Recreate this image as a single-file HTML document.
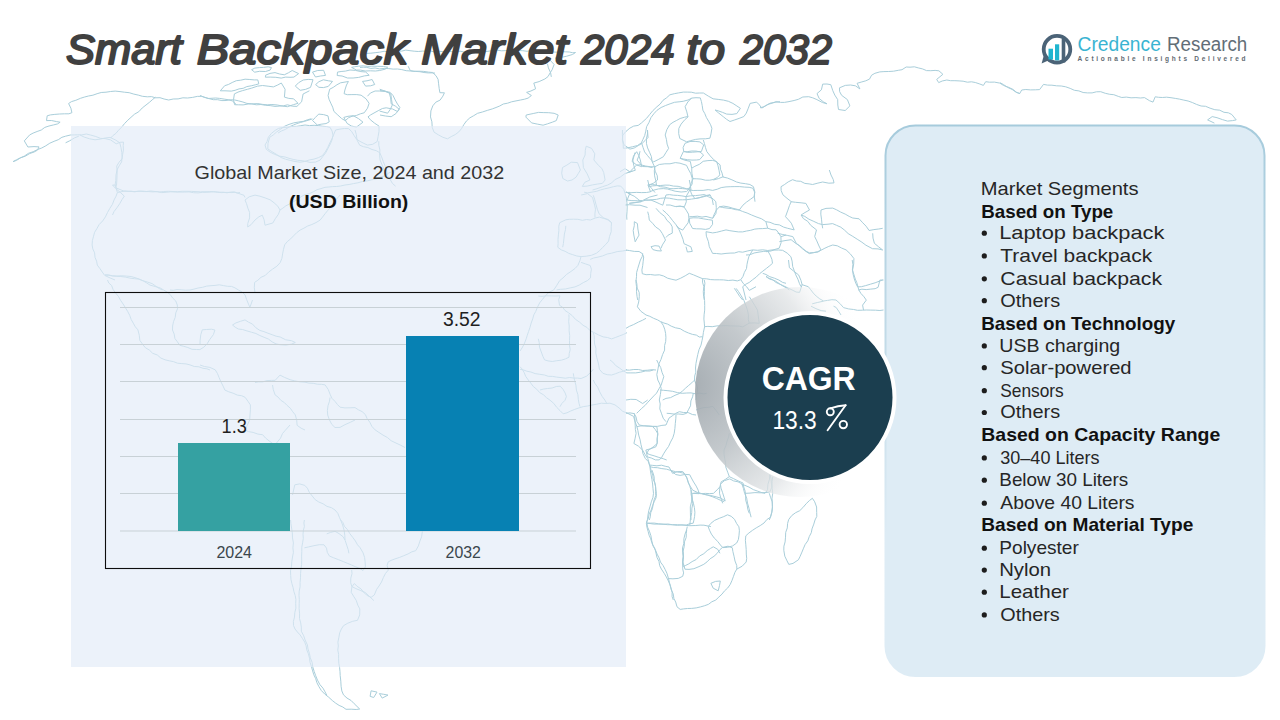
<!DOCTYPE html>
<html>
<head>
<meta charset="utf-8">
<style>
html,body{margin:0;padding:0;background:#fff;}
body{width:1280px;height:720px;overflow:hidden;}
svg{display:block;font-family:"Liberation Sans",sans-serif;}
</style>
</head>
<body>
<svg width="1280" height="720" viewBox="0 0 1280 720">
<defs>
<linearGradient id="pb" x1="0" y1="0" x2="0" y2="1">
<stop offset="0" stop-color="#a6cbdc"/><stop offset="0.45" stop-color="#c6dde9"/><stop offset="0.75" stop-color="#deecf5"/><stop offset="1" stop-color="#deecf5"/>
</linearGradient>
<radialGradient id="cr" gradientUnits="userSpaceOnUse" cx="682" cy="385" r="190">
<stop offset="0" stop-color="#9ba3a9" stop-opacity="0.92"/><stop offset="0.4" stop-color="#bcc2c6" stop-opacity="0.88"/><stop offset="0.72" stop-color="#e0e3e5" stop-opacity="0.75"/><stop offset="0.88" stop-color="#f4f5f6" stop-opacity="0.3"/><stop offset="1" stop-color="#ffffff" stop-opacity="0"/>
</radialGradient>
</defs>
<rect width="1280" height="720" fill="#ffffff"/>
<g id="map" fill="none" stroke="#a9ceda" stroke-width="1" stroke-linejoin="round"><polyline points="13.1,161.6 16.4,159.8 20.5,157.8 25.3,156.2 29.6,153.6 34.1,152.0 37.4,150.2 39.0,146.9 34.0,146.6 27.9,147.0 24.3,140.9 29.7,134.9 33.1,133.1 37.1,131.5 41.3,130.0 44.8,127.4 49.0,126.0 53.6,124.9 57.6,123.9 60.1,122.2 56.6,121.6 51.4,120.5 46.5,120.6 47.2,115.8 50.4,114.9 54.8,114.4 59.6,114.0 64.5,113.8 68.9,113.8 71.9,112.7 70.9,108.2 68.6,103.5 71.5,101.6 75.8,100.3 80.5,98.3 84.3,97.1 88.5,96.0 92.9,95.2 97.1,93.7 101.2,92.5 106.0,92.2 110.6,91.5 115.2,91.1 120.0,91.6 124.4,92.2 129.2,92.7 133.8,94.1 138.3,95.1 142.4,96.3 147.3,96.8 151.5,96.6 155.5,97.8 160.0,97.7 164.1,99.0 168.7,100.0 173.2,99.0 178.1,98.9 182.9,97.8 187.5,98.0 192.6,97.4 197.3,96.4 201.5,96.3 208.2,98.5 215.6,98.0 219.6,98.4 224.2,99.1 228.7,99.8 232.3,100.9 236.2,104.4"/>
<polyline points="13.1,161.6 16.5,160.4 20.1,158.0 24.3,156.1 28.5,153.3 33.2,151.7 37.6,149.5 41.7,148.0 45.8,145.8 49.8,143.2 54.1,141.3 58.3,139.7 61.9,137.3 65.6,136.2 70.4,135.0 74.3,134.9 77.8,134.8 81.8,134.9 86.3,134.0 90.8,135.1 95.8,136.5 100.6,138.4 105.1,138.6 110.6,139.9 116.2,143.8 120.1,142.3 123.5,142.1 123.2,145.5 123.4,150.1 122.6,154.7 122.0,158.8 119.1,162.2 116.7,166.1 117.2,170.7 117.0,175.9 116.8,181.0 116.5,185.2 112.5,185.0 115.9,188.7 120.2,192.3 124.3,196.1 122.0,199.6 119.7,203.7 116.9,207.8 114.0,211.6 112.5,215.0"/>
<polyline points="155.6,97.2 152.8,99.3 149.7,102.1 146.0,105.0 142.2,108.0 138.8,111.7 134.5,114.2 131.0,117.3 127.8,120.2 124.6,123.5 121.7,127.1 118.6,130.2 115.9,133.4 112.8,135.7 110.6,138.1"/>
<polyline points="116.2,185.0 116.0,187.9 123.9,191.1 126.8,191.3 130.0,191.4 133.4,191.6 137.0,191.4 140.8,191.4 144.7,191.6 148.8,191.6 153.0,191.9 157.3,191.6 161.7,192.6 166.2,192.3 170.7,191.8 175.3,192.0 179.9,192.1 184.5,192.1 189.0,191.9 193.6,192.7 198.1,192.9 202.5,192.3 206.9,192.3 211.2,191.9 215.3,191.9 219.4,192.2 223.3,192.2 227.0,192.8 230.6,192.1 233.9,191.9 237.1,193.0 240.0,192.5"/>
<polyline points="65.6,142.8 69.7,140.8 74.5,137.9 78.8,136.2"/>
<polyline points="311.2,118.8 307.7,119.7 303.5,121.3 298.7,122.0 293.7,122.9 289.0,124.4 284.9,126.1 280.7,129.1 276.7,131.9 273.3,134.9 269.7,137.3 268.0,143.2 267.8,148.9 271.8,151.6 276.4,154.3 281.1,157.5 285.5,159.2 290.2,160.4 295.0,161.5 300.0,162.2 304.5,161.5 309.2,160.0 314.0,159.1 318.5,157.6 322.2,155.8 325.3,151.9 327.7,147.6 329.8,143.0 332.0,138.6 333.9,134.1 335.6,130.0 339.9,129.1 344.5,128.5 348.5,128.6 351.5,131.3 354.0,135.4 356.5,139.2 360.0,141.4 363.9,143.4 367.5,145.1 372.7,144.3 377.2,141.5 378.1,136.6 379.0,131.3 379.0,126.1 374.6,123.2 370.3,119.7 368.0,116.9 370.3,115.1 374.0,113.0 378.2,110.7 382.4,108.5 386.2,107.8 392.6,109.0 397.6,111.6 399.9,107.5 397.5,104.1 395.2,100.0 393.1,95.6 390.1,92.3 385.0,91.5 379.8,91.0 375.1,91.0 370.4,93.0 367.5,96.2"/>
<polyline points="378.8,141.2 378.8,145.2 379.9,150.0 379.6,155.2 380.1,160.1 381.7,164.0 383.3,167.7 384.6,171.5 386.6,174.8 389.8,178.8 392.4,183.4 395.6,186.2"/>
<polyline points="200.0,95.5 204.2,97.2 209.4,98.7 213.3,99.7 217.6,99.7 221.9,100.6 226.0,100.5 230.2,99.8 234.4,99.9 238.7,100.9 242.9,102.0 246.9,103.4 251.7,103.9 256.3,104.8 260.9,104.5 265.6,105.3 270.2,105.6 275.0,106.4 279.1,106.1 283.5,105.8 287.5,104.8 292.4,106.2 296.9,106.4 301.6,101.8 303.1,94.0 309.4,90.8"/>
<polyline points="220.3,90.8 224.7,85.7 228.4,84.5 232.2,82.5 236.3,80.7 240.7,80.2 245.1,79.2 249.8,79.5 254.2,79.9 257.8,79.9 258.8,83.9 255.3,84.8 251.2,85.8 246.8,86.6 243.2,88.3 239.0,88.9 235.1,90.3 231.3,91.1 225.0,90.8 220.3,90.8"/>
<polyline points="234.4,93.9 238.0,92.1 242.6,90.6 247.4,89.3 251.7,88.1 257.3,86.2 262.5,85.5 268.1,86.2 273.4,86.9 277.7,85.0 281.3,83.0 285.1,89.3 284.4,97.1 288.8,98.4 293.6,98.8 298.0,103.3 293.6,104.6 287.5,106.7 282.6,106.1 277.4,105.0 271.9,104.5 267.3,104.8 262.6,104.4 257.9,103.6 253.1,103.8 248.2,104.0 243.1,104.9 238.3,104.8 234.6,104.7 233.5,99.7 234.4,93.9"/>
<polyline points="251.6,69.7 254.8,68.1 259.4,67.6 263.6,67.4 268.2,66.8 271.5,67.6 270.1,70.1 265.5,71.5 259.6,71.3 254.7,72.2 251.6,69.7"/>
<polyline points="265.6,75.2 270.0,73.4 275.0,72.6 279.6,74.0 284.3,74.8 288.4,72.8 292.2,70.5 298.6,73.6 293.9,77.1 290.0,77.3 285.7,77.1 281.2,78.1 275.8,77.3 270.2,77.1 265.4,77.2 265.6,75.2"/>
<polyline points="295.3,86.1 298.6,82.7 303.2,80.0 308.2,79.4 313.0,79.7 310.5,87.4 305.5,89.4 300.2,90.3 295.3,86.1"/>
<polyline points="312.5,72.1 317.7,70.5 323.6,70.3 325.5,75.4 320.4,76.0 315.5,77.0 312.5,72.1"/>
<polyline points="315.6,84.6 318.9,81.7 323.4,79.8 328.5,80.8 332.5,81.4 328.3,86.4 323.4,87.6 318.9,87.3 315.6,84.6"/>
<polyline points="337.5,72.1 341.1,71.5 345.4,71.1 350.0,70.0 355.4,70.4 360.9,71.6 365.7,72.0 369.2,75.3 364.3,75.9 358.7,77.4 353.1,78.0 347.5,78.0 342.1,76.0 337.2,75.5 337.5,72.1"/>
<polyline points="329.7,89.2 333.2,87.4 336.9,84.8 340.6,82.8 348.4,81.5 346.5,85.0 344.9,90.0 344.1,93.7 347.3,94.7 351.9,94.6 356.8,94.6 361.1,95.2 366.0,98.8 369.1,103.3 367.5,108.2 364.2,112.8 360.4,113.8 356.3,115.5 352.0,116.3 348.6,117.7 345.3,120.7 341.6,118.5 337.8,115.0 333.9,111.4 332.7,107.2 330.8,103.2 329.0,99.2 328.1,95.5 329.7,89.2"/>
<polyline points="362.5,81.4 367.0,80.8 372.1,79.5 374.7,84.5 370.6,85.8 365.6,86.1 362.5,81.4"/>
<polyline points="312.5,120.5 315.4,117.4 318.7,114.1 323.6,114.6 328.0,115.9 329.2,121.9 326.0,123.6 321.2,124.2 317.3,125.0 312.5,120.5"/>
<polyline points="343.8,117.4 348.0,116.3 353.2,115.7 358.5,118.6 363.0,122.2 356.4,127.1 351.3,126.0 347.1,123.4 343.8,117.4"/>
<polyline points="351.6,67.4 354.7,66.7 358.7,66.2 363.2,65.8 367.8,66.4 371.9,66.2 377.8,66.3 383.5,66.5 387.7,67.2 385.1,69.2 379.7,70.5 375.4,71.0 370.4,70.8 365.3,71.0 360.4,70.1 356.4,70.0 351.6,67.4"/>
<polyline points="379.7,89.2 385.1,91.2 390.8,93.8 391.5,99.4 392.4,104.9 390.3,109.3 387.6,113.2 379.7,111.1"/>
<polyline points="296.9,123.6 300.3,122.5 304.7,121.3 309.0,120.0 312.5,118.9"/>
<polyline points="278.1,133.0 281.2,131.1 285.4,129.4 289.4,126.8 293.5,125.0 296.9,123.6"/>
<polyline points="408.1,66.2 410.3,70.6 413.9,71.3 418.6,71.2 423.7,71.4 428.5,72.1 432.6,72.5 436.0,75.7 438.1,79.4 438.6,83.8 439.2,88.6 439.9,92.7 444.4,92.8 442.9,96.1 440.1,100.1 435.8,102.2 432.8,105.8 430.9,110.9 430.5,116.9 431.9,121.8 432.2,127.3 434.0,132.1 438.3,134.8 442.9,137.3 447.5,138.8 451.2,136.6 455.2,134.6 458.8,131.9 461.6,128.5 463.9,124.5 466.5,120.9 469.8,117.9 473.7,115.7 477.6,113.3 482.4,112.0 487.3,110.4 492.3,108.9 496.0,107.5 499.7,106.0 503.3,104.0 507.6,103.2 511.6,101.8 516.0,100.9 520.5,100.0 524.6,99.2 528.1,98.1 531.4,95.5 526.6,92.4 530.9,91.0 535.6,88.8 533.8,83.1 539.1,81.6 544.8,79.0 548.0,76.6 550.1,72.9 552.1,69.8 554.1,64.5 548.8,58.8"/>
<polyline points="526.2,115.0 533.8,113.4 538.5,112.4 543.8,112.6 548.7,112.7 554.1,113.3 558.2,115.0 556.3,120.6 552.3,122.2 547.6,123.8 543.1,125.2 537.3,124.1 531.6,122.9 525.9,117.1 526.2,115.0"/>
<polyline points="380.0,90.6 384.7,90.9 389.2,92.7 390.6,97.9 391.2,103.8 395.7,106.3 399.2,109.3 395.9,113.6 391.2,116.7 385.4,116.0 380.0,115.0"/>
<polyline points="360.0,54.4 363.2,54.2 366.8,53.4 370.8,53.2 375.1,52.7 379.6,52.2 384.1,51.3 388.8,51.7 393.2,50.6 397.5,51.2 401.7,51.1 405.8,50.1 410.0,50.7 414.2,51.2 418.3,51.5 422.5,51.1 426.7,51.1 430.8,51.1 435.0,52.1 439.2,51.3 443.3,51.7 447.5,51.2 451.7,51.7 455.8,52.1 460.0,51.2 464.2,52.0 468.3,51.6 472.5,52.0 476.7,51.7 480.8,51.1 485.0,51.7 489.2,51.1 493.3,50.5 497.5,50.3 501.7,50.8 505.8,50.6 510.0,50.4 514.2,50.3 518.5,50.6 522.7,50.7 527.0,51.3 531.2,50.5 535.4,51.5 539.5,51.7 543.6,51.0 547.5,52.0 552.0,51.9 556.6,52.2 561.1,51.6 565.5,51.8 569.4,52.0 572.8,52.8 575.5,52.5 572.5,54.5 566.3,56.3 560.3,57.6 555.0,58.1"/>
<polyline points="360.0,67.5 363.2,67.2 366.8,67.4 370.8,68.4 375.1,68.0 379.6,68.9 384.2,68.4 388.8,68.6 393.2,69.1 397.5,69.0 401.8,69.6 406.2,70.7 410.8,71.0 415.4,71.4 419.9,71.7 424.1,72.5 428.1,72.9 431.8,72.9 435.0,73.1"/>
<polyline points="547.5,63.8 548.4,67.9 550.6,72.7 551.3,76.9"/>
<polyline points="623.3,148.3 623.2,144.3 622.4,139.4 622.8,135.1 625.9,131.5 629.9,128.1 633.7,126.1 638.2,125.4 641.4,123.0 646.6,118.3 649.6,114.6 652.9,110.6 656.9,106.8 660.2,104.0 663.0,100.3 666.7,97.7 669.9,94.8 674.3,93.7 678.6,92.9 683.3,92.1 687.2,92.1 691.3,92.2 695.6,93.2 699.7,93.0 703.4,93.0 708.3,96.1 713.1,98.8 718.2,99.4 723.5,100.1 728.4,101.3 732.9,103.4 736.9,106.0 740.4,108.3 736.8,113.6 732.0,114.4 726.7,114.1 722.6,112.4 718.1,110.8 715.1,110.0 718.5,112.9 723.3,116.7 726.7,119.4 730.0,121.5 734.8,119.9 739.9,118.1 743.9,116.5 746.3,113.1 748.3,108.2 750.1,103.4 756.6,102.1 759.4,104.9 761.7,108.1 765.5,105.9 770.0,103.2 775.3,102.3 780.0,101.7"/>
<polyline points="623.3,148.3 627.4,147.9 632.4,146.8 637.5,145.5 641.3,142.9 642.9,139.5 644.7,135.5 645.8,131.1 646.6,126.7 649.0,122.4 650.9,117.7 653.9,113.7 657.0,110.3 661.1,107.5 665.6,105.5 670.1,103.8 674.5,102.3 679.1,101.8 683.2,101.3 688.0,100.0 691.7,98.3"/>
<polyline points="641.7,143.3 643.0,147.3 644.6,151.9 647.3,155.3 649.9,158.4 653.3,162.0 658.2,159.6 663.4,156.7 665.9,152.6 668.6,148.4 667.1,144.1 666.4,139.3 665.2,135.0 666.8,129.7 669.7,124.7 673.0,122.3 676.7,120.4 680.1,118.5 684.6,117.2 687.9,116.5 686.8,111.9 685.1,106.7 687.8,102.0 691.5,98.1 696.0,97.7 700.3,97.9 701.4,101.5 702.2,105.5 702.9,110.2 704.8,113.6 706.4,117.5 708.6,121.2 710.6,124.8 711.9,128.3 711.0,133.9 709.9,138.2 705.4,138.8 700.0,138.9 695.6,139.4 690.8,140.6 686.6,141.8 679.8,138.5 678.7,133.6 678.8,128.5 681.1,124.1 684.8,119.7 688.3,116.7"/>
<polyline points="685.0,143.3 690.0,141.5 695.1,141.4 699.9,141.9 703.7,144.9 701.4,151.5 697.5,151.8 692.4,152.2 687.3,152.4 683.7,151.3 683.1,147.5 685.0,143.3"/>
<polyline points="683.3,151.7 687.1,151.7 691.7,151.0 696.2,151.1 699.9,151.9 703.6,155.0 699.7,159.6 696.4,160.0 692.0,160.1 687.4,159.7 683.3,159.0 680.2,158.3 683.3,151.7"/>
<polyline points="680.0,158.3 684.8,160.2 690.3,161.4 691.7,168.2 694.9,166.3 699.4,164.3 703.2,161.3 707.9,160.6 712.7,160.4 716.7,161.6 718.0,165.8 719.1,170.7 719.8,174.9 717.2,177.6 713.2,179.5 709.7,180.2 705.4,180.2 701.0,179.1 696.8,178.8 692.9,178.7 691.9,173.2 691.7,168.3"/>
<polyline points="703.3,140.0 704.4,143.4 705.5,147.6 706.8,151.6 710.2,155.9 713.7,159.6 717.0,162.3 720.1,164.9 720.5,169.3 722.1,173.2 723.0,177.0 727.3,178.0 731.9,179.8 736.6,182.0 740.8,183.1 745.5,183.7 749.9,184.5 753.4,186.6 754.7,191.5 754.4,197.1 755.0,201.7"/>
<polyline points="655.0,166.7 659.3,164.5 664.8,163.8 670.0,163.8 675.3,162.6 680.0,163.2 686.5,165.3 688.3,169.1 690.8,173.6 692.2,178.3 692.2,183.9 689.7,188.0 686.7,189.0 682.6,188.6 678.3,188.3 673.9,188.7 670.0,188.6 665.1,187.2 660.5,186.7 656.5,185.2 655.8,180.8 654.6,175.9 654.3,170.8 655.0,166.7"/>
<polyline points="636.7,165.0 640.8,164.8 645.8,166.1 650.9,166.8 655.0,166.7"/>
<polyline points="656.7,185.0 652.4,184.6 647.9,184.8 650.5,191.8 646.4,192.5 641.7,192.6 636.7,192.4 632.0,192.6 628.3,193.3"/>
<polyline points="636.7,151.7 638.6,155.2 640.3,159.9 641.7,166.7 636.7,165.0 632.1,161.5 633.5,156.1 636.7,151.7"/>
<polyline points="693.3,178.3 691.2,182.9 689.7,188.3 691.5,194.0 694.9,198.6 699.8,197.6 705.3,195.6 710.1,194.8 712.4,199.8 713.3,205.0"/>
<polyline points="713.3,180.0 718.4,178.6 723.3,176.7"/>
<polyline points="650.0,191.7 653.8,190.1 658.6,188.9 663.3,188.6 667.4,189.0 671.3,190.1 675.1,191.2 681.1,192.0 686.6,191.5 690.0,188.3"/>
<polyline points="645.0,200.0 648.3,200.2 652.1,199.7 656.4,199.4 660.7,198.3 665.0,197.9 669.3,198.2 673.5,199.0 677.9,199.8 682.3,199.8 686.6,199.7 691.5,199.1 696.6,198.3 701.7,197.2 706.3,196.1 710.0,195.0"/>
<polyline points="620.0,171.7 625.0,168.7 630.0,171.8 633.2,168.2 636.7,165.0"/>
<polyline points="760.0,107.8 763.6,106.8 767.7,104.5 772.3,103.1 776.2,101.6 780.4,102.4 784.4,102.4 789.0,101.6 794.1,100.5 798.4,99.3 802.8,97.0 808.7,96.7 812.7,97.8 816.9,99.6 822.4,102.5 827.0,103.8 823.3,101.8 819.2,98.5 817.0,93.6 821.4,89.8 822.7,84.1 827.0,84.0 830.8,84.7 832.8,90.7 834.8,95.1 837.7,99.6 837.8,105.0 838.5,109.5 845.2,110.5 849.9,105.9 847.4,99.6 841.6,95.3 839.6,91.5 839.5,87.8 845.3,85.4 850.5,85.0 855.4,85.8 859.9,88.9 857.1,83.3 861.2,82.1 865.8,80.8 869.5,79.1 871.6,75.2 874.9,73.3 879.8,71.9 883.9,71.6 888.7,71.5 893.6,71.2 898.3,70.3 902.0,69.7 906.2,67.0 910.0,67.2 914.4,66.8 918.3,67.9 922.5,68.9 926.5,70.6 930.8,70.7 935.1,70.4 938.9,70.8 942.9,74.3 936.7,79.4 938.7,82.6 942.2,81.0 946.8,80.0 950.6,80.7 954.9,80.7 959.1,80.9 963.1,81.2 967.4,82.2 971.5,81.8 975.3,82.5 979.8,84.0 983.4,85.4 985.7,81.7 989.5,82.2 994.4,82.1 999.8,83.1 1003.6,85.5 1008.3,87.2 1012.8,89.3 1016.5,92.3 1020.0,93.6"/>
<polyline points="1000.0,82.7 1003.4,84.5 1007.4,87.3 1012.1,89.4 1016.0,92.2 1019.7,93.6 1021.7,90.0 1025.8,89.5 1030.5,89.9 1035.3,89.8 1039.6,89.6 1043.5,84.4 1047.5,85.1 1051.9,85.2 1056.6,85.8 1061.3,86.0 1065.7,86.8 1070.2,88.4 1074.4,90.3 1078.9,90.9 1083.1,92.5 1087.6,92.9 1092.1,92.9 1096.4,91.8 1100.7,91.7 1105.3,93.3 1109.7,94.3 1113.8,94.7 1118.3,96.4 1121.8,97.5 1126.3,97.1 1131.1,97.8 1135.9,97.6 1140.4,98.0 1144.5,97.6 1149.5,100.7 1153.0,102.1 1155.2,96.8 1158.6,97.3 1162.4,97.5 1166.6,97.2 1171.0,97.7 1175.3,98.4 1179.4,99.1 1183.8,100.1 1188.1,101.0 1192.3,102.5 1196.5,104.4 1201.1,106.0 1205.6,106.3 1210.1,108.2 1214.8,109.7 1219.7,110.2 1224.0,112.3 1228.4,112.8 1231.8,114.5 1236.2,119.9 1232.6,120.6 1227.5,121.1 1222.4,119.6 1217.0,117.7 1212.2,116.6 1207.6,119.9 1214.4,123.1"/>
<polyline points="629.3,203.3 634.8,202.5 641.0,201.6 645.9,200.1 651.0,200.1 655.0,201.7 659.2,203.6 662.8,205.2 664.3,200.2 666.0,195.0 669.4,194.6 673.3,195.2 677.6,195.4 681.9,195.9 686.0,196.6 690.7,195.8 695.5,195.6 700.1,195.1 704.4,194.5 708.7,196.9 713.0,198.7 715.8,201.8 716.3,207.6 716.0,213.3 712.7,218.3"/>
<polyline points="647.7,211.7 648.7,215.5 649.3,220.0 652.6,223.3 655.7,227.0 659.7,229.7 662.3,233.5 665.5,240.0 662.4,244.9 661.0,248.3"/>
<polyline points="656.0,208.3 659.6,212.4 664.6,216.4 666.9,220.3 670.3,223.4 672.2,226.8 672.3,233.1 667.9,235.3 666.0,237.5"/>
<polyline points="634.3,221.7 637.4,223.5 637.9,229.0 639.0,235.1 635.2,241.8 633.8,235.0 633.2,230.5 634.3,225.6 634.3,221.7"/>
<polyline points="651.0,246.7 655.0,245.7 659.1,246.1 661.4,251.0 657.0,250.7 652.9,249.6 651.0,246.7"/>
<polyline points="662.7,210.0 666.0,212.8 669.5,216.5 672.7,220.7 676.2,224.9 679.1,229.8 681.3,234.9 683.0,239.3 684.0,243.7 690.9,246.8 692.3,251.4 687.4,252.0 686.0,246.7"/>
<polyline points="706.0,231.7 706.4,236.2 708.4,241.6 709.3,246.7 712.6,253.4 716.6,253.5 721.2,254.0 726.0,253.4 730.1,253.1 734.5,253.0 738.7,251.7 742.7,252.2 747.8,250.9 752.7,249.9 757.5,250.3 762.7,249.8 767.7,250.5 774.0,249.7 779.2,248.2 781.1,242.7 780.9,236.7 778.8,233.2 776.1,229.8 772.0,229.6 767.6,228.2 762.7,228.6 758.9,228.7 754.8,229.1 750.7,230.3 746.6,231.0 742.7,231.9 738.3,231.9 734.0,231.3 729.9,230.7 726.0,229.9 721.3,231.1 716.7,232.3 712.7,232.9 706.0,231.7"/>
<polyline points="712.7,218.3 714.1,214.5 716.4,210.1 719.4,206.8 723.6,206.1 728.3,206.9 732.7,208.2 737.8,209.5 742.7,211.5 747.1,213.0 751.6,215.0 756.0,216.8 761.6,218.8 765.9,221.7 767.7,228.3"/>
<polyline points="689.3,216.7 692.9,216.6 697.4,216.2 702.0,217.1 706.0,216.4 712.7,218.3"/>
<polyline points="689.3,218.3 693.2,217.8 698.3,217.9 703.7,218.9 708.7,219.7 712.4,220.2 712.6,224.3 709.5,228.5 705.6,229.4 701.0,228.9 696.5,228.8 692.6,228.5 689.7,223.2 689.3,218.3"/>
<polyline points="676.0,206.7 680.0,206.2 684.1,207.1 686.2,210.2 688.5,214.1 688.9,218.3 688.1,222.8 685.1,226.8 682.7,230.1 678.9,228.2 676.0,225.0"/>
<polyline points="666.0,205.0 670.1,205.0 675.1,206.5 680.2,206.2 684.4,206.7 686.3,201.8 686.0,196.7"/>
<polyline points="649.3,186.7 652.5,185.9 656.4,185.6 660.8,185.5 665.1,185.1 669.3,185.2 673.5,186.1 678.1,186.3 682.4,187.5 686.3,188.7 689.8,190.0 686.0,196.7"/>
<polyline points="689.3,190.0 693.2,190.5 697.9,190.4 703.1,190.4 708.2,189.6 712.7,190.4 717.3,189.2 721.2,187.6 726.0,186.9 730.2,186.7 734.9,186.6 739.8,186.6 744.6,187.1 749.1,187.3 752.8,188.2 754.7,192.3 754.1,196.6 750.6,199.2 746.4,202.2 742.9,205.2 739.3,210.0 735.8,209.7 731.5,208.6 727.0,208.1 722.7,207.5 719.3,206.7"/>
<polyline points="626.0,250.0 629.7,250.6 634.3,251.4 639.1,251.5 642.3,253.6 643.7,256.9 643.2,261.2 642.7,265.7 641.9,269.9 642.3,273.7 646.1,274.7 650.4,274.5 654.9,275.1 659.4,274.8 663.6,276.0 667.6,278.2 671.9,279.3 676.0,280.2 680.7,278.2 685.2,275.8 689.3,273.3 693.6,274.9 698.0,276.8 702.6,278.7 706.6,278.8 710.7,279.6 714.9,279.8 719.3,279.8 723.6,279.9 728.3,280.5 732.9,280.1 737.3,280.9 740.8,279.7 743.0,276.4 744.4,272.4 746.5,268.5 747.0,264.3 747.9,260.2 748.9,256.5 752.7,250.0"/>
<polyline points="642.7,253.3 642.2,256.6 640.4,260.0 639.1,264.1 637.8,268.3 636.6,272.6 636.5,276.7 635.9,281.6 636.5,286.7 636.5,291.7 637.0,296.3 637.7,300.0"/>
<polyline points="702.7,278.3 702.5,282.1 703.8,286.7 703.3,291.7 703.6,296.3 704.3,300.0"/>
<polyline points="746.0,255.0 749.8,254.8 754.1,253.0 759.0,252.1 763.7,251.4 767.9,251.2 770.2,255.1 771.9,259.3 772.5,263.3 769.8,265.7 766.4,268.4 762.8,271.2 759.6,273.7 756.2,277.1 752.5,279.8 749.3,282.4 745.6,284.3 742.7,286.7 743.8,291.0 745.0,295.9 746.0,300.0"/>
<polyline points="762.7,273.3 766.0,274.5 769.8,276.7 774.4,278.2 778.8,280.0 782.6,282.4 786.0,283.3"/>
<polyline points="734.3,288.3 736.9,292.0 739.8,296.6 742.7,300.0"/>
<polyline points="626.0,191.7 629.4,194.0 634.2,196.2 638.2,199.3 641.1,201.7 635.7,202.6 629.3,203.3"/>
<polyline points="649.3,186.7 647.7,180.0"/>
<polyline points="689.3,180.0 690.3,185.0 691.0,190.0"/>
<polyline points="781.0,236.7 786.0,235.0"/>
<polyline points="781.0,186.7 784.3,184.7 788.2,181.9 792.6,179.7 796.4,181.0 800.7,181.3 804.8,183.4 809.1,183.9 812.6,184.5 817.9,183.1 822.7,182.0 828.9,183.2 834.0,182.9 833.2,179.4 831.0,175.0 829.3,170.0"/>
<polyline points="781.0,186.7 781.2,190.6 782.9,194.8 787.0,198.3 791.2,201.6 789.4,205.7 787.9,210.1 785.5,216.7 788.5,219.9 791.3,223.2 794.2,229.9 787.7,228.3 783.6,227.1 779.4,224.9 774.7,224.3 770.0,222.3 766.0,221.7"/>
<polyline points="791.0,201.7 795.6,202.3 801.1,202.8 805.9,203.4 809.5,210.0 805.0,212.5 801.1,215.0 803.3,218.5 807.8,221.4 810.7,225.3 816.5,229.9 814.7,236.6 816.8,240.9 819.0,246.0 821.0,250.0 818.0,252.0 813.6,252.6 809.3,253.6 805.9,251.4 802.4,248.7 799.1,245.7 796.2,243.2 792.8,236.6 787.8,235.5 782.2,234.4 777.7,233.3"/>
<polyline points="801.0,215.0 804.8,216.4 808.9,219.2 813.8,221.4 818.5,223.6 822.7,224.6 828.0,224.2 832.6,223.6 836.5,225.3 840.8,227.2 844.4,230.0 848.2,233.6 852.8,236.4 857.2,239.2 861.9,242.2 865.9,245.2 872.5,248.7 878.0,248.9 882.7,250.0"/>
<polyline points="821.0,210.0 826.0,208.4 832.7,208.1 836.6,209.8 840.7,212.1 845.2,214.1 849.2,216.4 852.7,218.0 859.1,218.8 862.2,222.2 866.1,226.2 869.1,230.5 873.9,229.6 878.7,229.0 882.7,228.3"/>
<polyline points="821.0,210.0 820.8,214.1 821.5,219.2 822.0,224.3 822.7,228.3"/>
<polyline points="779.3,241.7 785.0,240.6 791.1,239.7 795.9,243.5 799.3,245.4 802.6,248.3 806.0,251.2 809.4,252.8 813.3,252.7 817.3,251.8 821.1,250.2 824.9,248.2 828.8,246.4 832.7,245.0 837.3,245.8 841.7,248.1 846.1,249.9 850.5,254.1 853.9,258.5 853.7,263.9 852.6,270.0 853.1,274.3 854.3,279.0 855.8,283.3 857.6,286.9 861.4,286.7 865.7,285.6 870.4,284.2 875.1,282.8 879.3,281.2 882.7,280.0"/>
<polyline points="872.7,233.3 873.0,238.1 874.4,243.3 878.7,246.9 882.7,250.0"/>
<polyline points="766.0,251.7 769.6,251.3 774.0,250.1 778.6,250.0 782.6,250.3 787.2,253.1 790.9,256.7 792.1,261.1 792.7,266.6 794.2,270.5 795.8,274.9 797.9,279.2 799.4,283.4 801.0,286.7"/>
<polyline points="766.0,276.7 769.7,279.0 774.9,280.7 779.2,283.5 782.9,286.0 786.6,288.0 789.3,290.0"/>
<polyline points="636.0,280.0 636.8,283.6 637.2,288.1 639.2,292.5 639.3,296.7 638.7,302.0 637.4,306.8 640.9,311.3 646.0,315.0 649.8,316.3 653.6,318.3 657.6,319.9 660.8,321.8 663.2,325.2 664.7,329.2 665.6,333.4 665.9,337.3 665.7,341.4 664.6,345.6 664.6,350.1 662.6,354.5 661.0,359.4 658.9,363.9 658.1,368.4 656.8,374.5 657.8,380.0 659.8,384.0 661.2,388.3 660.4,394.5 659.3,400.0"/>
<polyline points="704.3,280.0 704.9,283.3 704.4,287.1 704.4,291.3 704.2,295.8 704.6,300.6 704.7,305.4 704.7,310.1 704.1,314.8 703.9,319.1 704.3,323.1 704.6,326.7 703.4,332.4 702.8,336.7 702.0,340.7 701.0,345.1 699.0,349.7 697.8,354.4 696.8,359.1 696.0,363.3 695.5,368.0 695.8,372.2 694.7,376.0 694.5,380.1 691.8,382.8 688.7,385.4 685.6,388.1 682.5,391.0 679.4,393.5 675.0,395.3 670.6,397.6 666.0,398.4 662.7,400.0"/>
<polyline points="704.3,326.7 707.9,326.4 712.2,326.7 716.9,325.9 721.6,325.8 726.0,325.6 730.5,325.9 734.9,326.0 739.0,326.1 742.7,326.9 749.3,323.1 754.6,322.9 759.3,323.3"/>
<polyline points="626.0,328.3 629.3,326.4 633.7,324.5 638.3,322.1 642.6,320.2 646.0,318.3"/>
<polyline points="661.0,321.7 663.9,323.0 667.6,324.1 671.3,326.2 675.5,327.8 680.2,328.7 684.3,331.2 688.5,333.0 692.5,334.4 696.4,335.1 699.3,337.0 702.7,336.7"/>
<polyline points="626.0,370.0 629.5,370.1 633.8,369.5 638.4,369.5 642.7,370.5 647.6,370.2 652.2,369.7 656.0,370.0"/>
<polyline points="736.0,288.3 738.5,291.5 741.2,295.8 743.9,300.4 745.7,305.1 747.3,309.7 748.4,314.7 748.3,319.6 749.3,323.3"/>
<polyline points="741.0,280.0 743.2,283.4 746.7,286.8 749.3,290.4 756.0,286.7"/>
<polyline points="749.3,296.7 751.8,300.6 754.7,305.4 757.5,310.1 758.1,314.8 758.7,319.5 759.3,323.3"/>
<polyline points="694.3,380.0 697.3,386.8 697.6,391.1 696.4,396.0 696.0,400.0"/>
<polyline points="626.0,413.3 630.0,412.9 634.2,413.6 636.0,416.9 637.0,421.5 639.3,425.0 643.5,425.8 648.1,426.2 652.7,426.3 657.3,426.4 661.9,425.4 666.0,425.0 669.0,418.1 672.2,415.9 675.6,413.4 679.3,411.7 683.4,412.5 688.2,412.6 692.4,414.5 696.0,415.0"/>
<polyline points="634.3,413.3 634.7,416.7 635.0,420.8 635.2,425.2 635.4,429.6 636.1,433.3 635.0,438.8 633.9,443.5 638.5,446.2 642.6,450.1 644.9,454.3 647.8,458.6 649.2,463.4 650.4,467.2 651.2,471.0 652.8,475.0 653.1,478.9 654.7,482.7 655.6,486.9 655.6,491.7 655.8,495.6 654.2,499.7 653.2,504.2 652.4,508.7 650.7,512.8 650.3,516.8 649.3,520.0"/>
<polyline points="652.7,426.7 655.3,429.5 657.6,433.3 657.3,437.7 657.4,442.6 656.0,446.7 650.9,448.7 645.9,450.0 647.4,456.9 651.3,458.0 655.4,459.9 659.3,459.9 661.7,457.4 663.6,453.8 666.0,450.0 668.6,446.4 670.5,442.1 672.8,437.8 674.2,433.3 674.9,428.5 675.3,423.5 675.8,418.8 676.0,415.0"/>
<polyline points="649.3,465.0 652.7,465.4 656.9,465.8 661.5,465.2 665.8,466.4 669.0,467.0 672.6,473.4 677.3,471.6 682.7,471.5 685.1,474.4 687.0,478.4 688.3,482.9 690.6,486.8 692.6,490.1 697.6,492.5 702.5,493.8 707.6,495.1 712.6,496.8 716.7,498.5 720.8,500.4 724.3,501.7"/>
<polyline points="691.0,490.0 691.8,494.3 692.5,500.0 692.8,503.8 691.9,508.1 691.7,512.6 691.0,516.6 691.0,520.0"/>
<polyline points="729.3,433.3 728.6,436.9 727.1,441.1 725.9,445.7 724.0,450.0 724.0,454.3 724.7,458.6 725.6,462.8 725.7,466.8 727.7,472.2 729.3,476.6 725.5,479.3 721.2,481.8 719.8,487.3 719.5,493.3 721.0,498.7 722.7,503.3"/>
<polyline points="729.3,476.7 733.3,478.5 738.1,480.9 743.0,483.0 743.8,487.1 745.2,491.3 745.7,495.8 745.7,500.1 747.1,504.9 747.9,509.7 749.3,513.3"/>
<polyline points="746.0,493.3 750.0,493.1 754.9,492.6 760.2,492.8 765.2,492.6 769.7,492.0 771.9,487.1 772.1,481.3 772.7,476.7"/>
<polyline points="769.3,493.3 770.5,497.2 772.2,501.8 772.5,506.7 772.1,511.5 770.8,516.3 769.3,520.0"/>
<polyline points="626.0,400.0 630.8,399.3 636.2,399.5 642.7,403.5 647.7,400.0"/>
<polyline points="659.3,400.0 660.2,403.9 659.8,408.9 661.4,413.2 663.2,418.2 666.0,421.7"/>
<polyline points="696.0,410.0 699.5,408.7 704.0,407.5 708.7,407.3 712.8,406.4 716.4,410.9 719.3,415.0"/>
<polyline points="651.9,470.0 653.0,473.0 654.1,476.6 654.3,480.8 655.4,485.0 655.9,489.4 656.4,493.6 656.1,497.7 654.2,501.6 652.5,505.8 651.1,510.1 649.1,514.0 648.4,518.2 646.7,521.9 647.5,527.0 649.4,531.2 650.9,535.7 651.8,540.9 652.8,544.8 654.9,548.6 656.0,553.0 657.0,557.5 659.0,561.5 659.7,565.7 661.4,569.1 664.2,573.3 666.3,576.9 668.4,581.0 670.0,584.9 671.2,589.5 673.2,593.9 673.9,598.5 675.7,602.1 677.0,606.8 680.2,609.4 683.6,608.9 687.5,608.5 691.7,608.4 696.2,607.9 700.5,606.9 704.7,605.7 708.5,604.3 711.8,601.8 715.8,600.0 718.9,597.0 722.0,594.1 724.6,590.8 727.6,588.1 730.2,584.5 732.0,580.4 733.5,576.3 734.9,572.4 736.8,569.1 742.2,566.2 746.2,562.0 746.7,558.3 746.3,554.1 746.2,549.5 745.8,544.8 745.4,540.3 745.8,535.8 748.9,533.0 752.4,530.4 756.2,527.9 760.2,525.6 764.0,523.0 766.8,519.6 770.3,517.4 771.6,512.7 772.3,507.9 772.3,503.0 772.0,498.2 772.7,493.6 772.2,488.4 771.4,483.2 771.0,478.5 769.9,474.7"/>
<polyline points="647.2,523.1 650.5,523.1 654.4,523.1 658.6,523.8 663.2,524.3 667.9,524.0 672.7,524.8 677.4,525.3 681.9,524.8 686.0,525.4 689.7,525.7 695.8,525.5 700.1,525.1 703.9,525.2 710.9,526.6"/>
<polyline points="689.7,525.5 690.2,521.8 690.5,517.2 690.4,512.1 690.3,506.9 691.5,501.9 691.9,497.4 691.9,493.3 699.2,493.7 698.2,490.2 696.2,486.1 693.6,482.0 691.4,478.0 689.7,474.7"/>
<polyline points="701.5,493.6 705.6,494.7 710.8,495.5 716.1,496.8 720.5,498.0 725.2,500.9 724.0,497.2 722.6,492.7 721.0,488.1 720.4,484.2 724.3,480.7 729.8,478.9 733.6,480.9 738.0,481.8 741.9,483.9 743.4,488.4 744.6,493.3 746.7,498.2 747.5,503.1 749.0,508.3 750.1,513.2 751.1,517.2"/>
<polyline points="727.5,514.8 731.2,516.3 734.5,519.3 736.6,523.5 738.9,526.8 739.4,530.7 739.0,535.2 738.4,539.5 736.7,543.0 732.7,545.9 727.6,547.3 722.8,547.6 720.4,545.0 717.7,541.4 714.2,538.0 711.4,534.1 709.5,530.2 708.2,526.6 710.8,523.4 714.6,520.4 719.3,518.3 723.8,516.6 727.5,514.8"/>
<polyline points="687.3,526.6 686.5,530.1 685.0,534.1 683.9,538.7 683.8,543.5 682.5,547.9 682.8,552.4 683.2,557.1 682.6,561.8 684.1,565.8 684.9,569.2 689.0,569.4 693.9,568.7 699.0,566.6 703.8,564.3 707.0,561.9 710.1,558.8 714.0,556.3 717.2,553.3 719.7,549.9 722.5,547.4 728.0,546.2 732.3,547.8 732.9,551.6 734.0,556.2 735.0,561.0 736.7,565.4 736.9,569.1"/>
<polyline points="668.5,578.6 672.9,578.8 678.3,578.4 682.7,576.3 683.6,572.9 682.7,568.8 682.8,564.3 683.3,559.6 683.3,555.2 682.9,551.2 682.6,547.9"/>
<polyline points="710.9,583.3 715.6,581.4 720.3,581.0 719.5,585.6 718.2,590.8 713.2,588.2 710.9,583.3"/>
<polyline points="741.6,484.2 745.0,485.4 749.0,487.1 753.3,489.6 757.8,491.2 761.9,492.7 765.0,493.3 767.5,489.9 767.9,484.4 769.5,479.1 769.9,474.7"/>
<polyline points="812.4,498.3 814.7,501.8 816.6,507.0 816.7,512.5 816.8,516.4 815.0,520.0 813.8,524.1 812.0,528.9 811.3,532.7 809.3,536.5 807.8,540.8 805.1,544.6 803.3,548.8 801.6,552.9 800.0,556.6 798.4,559.8 793.0,563.4 788.8,564.4 787.0,560.8 784.8,556.2 783.8,550.3 783.9,546.2 785.1,541.9 785.5,537.2 785.7,532.4 787.3,527.9 787.6,523.4 788.7,519.5 791.8,515.5 795.6,512.7 799.7,510.7 802.9,507.6 806.2,503.7 809.6,500.4 812.4,498.3"/>
<polyline points="670.8,470.0 675.6,474.5 680.1,475.4 685.4,474.4 689.7,474.7"/>
<polyline points="107.5,280.0 108.8,283.0 111.6,285.5 113.1,289.5 115.6,293.0 118.5,296.5 120.6,300.4 123.1,304.0 125.2,307.4 127.6,311.3 129.7,315.3 131.2,319.5 133.3,323.2 135.3,326.8 137.9,329.8 139.3,335.3 139.8,340.3 142.9,344.7 145.5,347.8 149.3,350.0 152.7,353.3 157.3,355.0 160.9,358.1 165.1,359.8 169.2,360.8 173.4,361.6 177.5,363.2 181.8,363.6 186.0,363.9 190.0,364.9 194.3,366.5 198.9,366.8 203.0,368.3 206.9,368.8 210.0,370.0"/>
<polyline points="105.0,275.0 108.4,274.9 112.5,275.8 117.1,276.0 121.9,275.8 126.6,276.1 131.1,276.5 135.0,277.6 139.5,279.2 143.4,281.0 146.8,283.0 150.0,285.1 155.1,286.5 159.9,287.8 163.3,289.8 167.0,292.0 170.3,294.6 172.7,298.1 175.7,300.9 177.3,305.0 177.5,308.8 175.8,312.8 175.2,317.4 173.5,321.7 172.6,326.0 172.5,330.0 174.2,334.1 174.9,338.5 177.4,341.8 179.8,345.3 183.7,346.3 187.8,347.5 192.0,349.3 196.3,349.5 199.9,349.6 203.8,347.2 207.2,343.7 209.6,339.7 213.4,334.6 214.9,330.0 211.4,329.2 206.6,329.5 202.3,329.8 200.8,334.6 200.1,340.3 200.0,345.0"/>
<polyline points="232.5,325.0 235.9,322.9 240.5,321.3 245.0,319.9 248.4,322.1 252.5,324.1 255.8,327.7 259.8,330.4 263.9,331.6 267.9,333.2 272.1,334.7 276.1,336.2 280.2,337.0 285.7,339.8 291.5,340.7 295.3,342.5 291.6,344.1 285.9,345.1 280.0,344.7 276.0,343.9 272.2,341.9 268.5,339.1 264.1,337.3 259.8,335.5 255.9,333.5 251.4,332.2 246.9,330.9 242.5,329.5 238.3,329.0 235.2,327.2 232.5,325.0"/>
<polyline points="170.0,290.0 173.2,290.3 177.0,289.6 181.2,289.8 185.6,290.2 190.0,290.0 194.0,289.1 198.1,288.0 202.5,287.3 206.7,286.1 211.0,285.7 215.0,285.4 219.3,284.8 223.5,285.6 227.5,286.3 231.5,286.4 234.9,287.8 238.6,290.1 242.2,292.1 245.1,295.0 246.6,299.5 248.5,304.1 249.9,307.4 252.5,300.0"/>
<polyline points="80.0,135.0 84.2,137.1 89.6,138.8 95.0,139.8 100.1,139.1 105.2,138.0 110.0,137.4 115.2,139.8 119.7,142.7 120.9,147.2 121.8,152.4 122.1,157.5 121.6,161.9 119.2,165.8 117.0,169.9 116.0,175.0 115.8,180.3 115.1,185.0 117.4,192.5 116.1,196.1 114.1,199.9 112.4,204.4 109.8,208.4 107.5,212.5 105.4,216.9 102.7,220.9 99.2,224.5 96.9,228.6 94.6,232.3 93.4,236.8 92.4,240.6 92.1,245.0 92.8,248.9 94.6,252.8 95.0,257.3 96.6,261.2 97.3,265.1 100.0,268.7 102.3,272.1 104.7,275.4 110.2,278.0 115.0,280.0"/>
<polyline points="117.5,192.5 125.0,191.0 128.1,191.3 131.3,191.2 134.8,191.8 138.6,191.1 142.4,191.1 146.5,191.5 150.6,191.0 154.9,191.5 159.3,192.0 163.8,191.5 168.4,191.3 173.0,191.5 177.6,191.7 182.2,191.3 186.9,191.3 191.5,191.4 196.0,191.6 200.5,191.8 204.9,191.7 209.2,191.7 213.4,191.6 217.5,192.2 221.3,192.6 225.1,192.4 228.6,192.4 231.9,192.6 235.1,192.2 244.0,195.3 245.0,197.5"/>
<polyline points="245.0,200.0 249.2,196.8 255.0,195.1 259.9,196.2 265.1,197.9 270.1,199.8 274.1,202.8 277.8,206.2 280.0,210.0 278.4,214.3 275.3,218.7 272.8,223.0 265.0,225.2 264.1,219.8 262.3,215.2 258.9,216.8 255.0,220.0 251.0,224.7 247.7,227.0 247.8,223.4 249.6,217.9 249.6,212.5 247.9,208.2 246.5,203.6 245.0,200.0"/>
<polyline points="280.0,210.0 282.8,208.2 285.9,205.8 289.8,203.9 293.7,201.5 297.8,199.4 301.2,196.6 304.9,194.7 309.4,193.6 313.3,191.8 317.0,189.7 321.0,188.6 325.0,187.3 328.9,187.0 332.6,186.6 336.4,186.5 340.5,186.0 345.0,185.0 349.1,184.5 353.4,183.6 357.9,182.8 362.5,181.5 367.2,180.9 371.7,179.8 376.1,179.0 379.9,177.1 384.9,175.9 389.0,172.8 393.4,171.4 397.0,169.2 400.0,167.5"/>
<polyline points="340.0,195.0 338.1,197.5 335.4,200.1 333.3,203.6 330.8,207.2 327.8,210.4 325.0,213.8 322.5,217.1 320.1,220.1 316.0,222.6 311.9,224.5 307.7,226.0 303.9,228.2 300.1,230.1 296.7,232.7 293.6,235.8 290.6,238.9 287.3,241.6 284.7,244.8 283.5,249.3 282.6,253.9 281.9,258.4 280.2,262.6 276.9,266.2 272.6,269.1 268.6,272.1 265.3,275.4 261.0,277.3 257.9,280.2 254.6,282.4 254.3,287.8 255.0,292.5"/>
<polyline points="265.0,145.0 267.0,141.6 268.4,137.2 271.4,133.4 275.2,130.4 278.5,128.4 282.7,127.5 287.2,127.3 291.7,126.5 296.4,126.4 300.8,125.7 305.0,125.0 309.5,125.6 314.1,125.3 318.5,125.6 322.8,126.3 326.7,126.6 330.1,127.4 332.1,131.1 333.0,135.3 332.0,139.9 330.4,143.8 328.1,148.2 325.7,152.8 322.7,156.7 320.1,160.1 315.5,162.1 310.0,162.4 306.4,161.5 302.2,160.7 297.7,160.3 293.2,159.4 289.0,158.3 285.1,157.0 279.3,156.1 274.3,154.2 270.2,152.2 266.3,149.3 265.0,145.0"/>
<polyline points="355.0,130.0 356.3,134.5 357.1,140.2 359.7,145.2 363.5,146.7 367.8,147.5 372.0,149.5 376.3,150.7 379.7,152.7 381.6,156.8 383.3,161.6 385.3,166.5 386.8,171.1 387.5,175.0"/>
<polyline points="105.0,275.0 108.3,275.2 112.0,275.9 116.2,276.3 120.7,276.5 125.4,277.1 129.9,278.1 134.4,278.7 138.7,279.1 142.3,280.5 147.3,282.0 152.1,283.6 155.9,286.2 159.3,288.6 162.5,290.0"/>
<polyline points="255.0,382.5 258.4,381.9 262.6,381.9 267.0,380.6 271.4,380.4 275.2,380.3 280.0,375.1 284.5,377.4 290.1,379.7 294.7,380.9 299.7,381.8 305.0,382.2 308.9,383.1 313.2,383.3 317.4,384.2 321.5,384.3 325.1,384.9 328.2,389.4 330.3,394.8 332.0,398.4 335.0,401.4 337.5,404.6 340.1,407.2 344.9,407.9 350.1,407.8 355.0,407.6 358.4,409.8 362.1,411.6 365.4,414.6 367.1,418.6 369.8,422.2 371.9,426.4 375.1,429.9 378.9,432.4 383.0,435.1 387.4,437.5 391.1,440.7 395.0,442.6 400.8,445.3 405.0,447.5"/>
<polyline points="272.5,385.0 273.3,389.6 275.1,394.9 278.1,397.1 280.8,400.3 284.4,402.6 287.1,405.4 290.4,408.3 292.7,411.7 295.3,414.9 296.7,420.1 297.1,425.3 301.1,428.2 305.0,430.0"/>
<polyline points="330.0,397.5 329.5,401.2 328.0,405.7 327.4,410.6 327.7,415.0 329.4,419.8 331.8,424.4 335.0,427.5 340.0,427.4 344.9,424.7 350.3,422.3 355.0,420.0"/>
<polyline points="292.5,495.0 293.6,490.1 294.8,484.8 299.7,483.9 304.8,485.4 307.4,488.2 309.3,492.3 312.3,496.1 315.2,499.7 318.8,502.0 323.1,503.8 327.0,506.4 331.5,507.7 335.0,510.0 337.8,513.3 339.4,517.3 341.1,521.1 342.6,525.0 344.1,530.2 344.8,535.6 345.0,540.0"/>
<polyline points="200.0,365.0 204.4,366.5 209.9,367.4 215.2,369.8 217.4,373.4 219.1,377.6 221.0,382.0 223.1,386.1 224.9,390.1 228.8,391.8 233.1,393.2 237.3,395.1 241.6,395.7 245.1,397.3 247.9,401.2 250.4,404.9 250.4,409.8 250.0,415.0 249.7,419.9 247.2,425.5 245.2,430.0 248.4,431.6 253.1,432.4 257.9,434.1 262.6,434.7 265.5,438.0 269.0,440.8 272.2,443.2 275.0,444.9 277.4,441.9 280.5,438.2 282.5,433.5 285.3,430.3 290.0,425.0"/>
<polyline points="290.6,520.0 290.9,523.7 291.6,528.0 292.3,532.8 292.5,537.9 293.4,542.9 292.9,547.8 293.4,552.4 292.5,557.0 291.8,561.7 291.5,566.3 290.5,570.9 290.7,575.6 291.0,579.6 291.9,583.6 293.1,587.6 293.9,591.6 295.2,595.5 295.9,599.5 295.7,603.3 295.9,608.1 294.8,612.6 294.5,617.1 293.4,621.4 293.5,625.5 295.0,629.0 297.4,632.0 300.1,634.9 302.4,638.4 304.7,642.1 306.1,645.8 306.8,649.9 308.4,653.9 309.5,658.2 310.1,662.5 311.4,666.4 312.4,670.1 313.8,674.8 315.7,678.7 316.9,682.7 318.8,686.4 321.3,690.5 324.8,694.1 328.7,697.2 332.3,700.5 335.6,703.1 339.1,705.4 342.8,707.0 346.0,709.3 351.2,709.2 356.2,709.5 359.7,709.0 354.2,703.7 351.1,700.5 347.0,698.1 343.5,694.9 341.8,690.9 341.1,686.3 340.8,681.2 340.2,675.6 340.0,671.7 339.6,667.6 338.8,663.3 338.6,658.8 338.6,654.3 337.8,650.1 338.3,646.0 337.9,642.2 338.9,637.2 339.7,632.8 341.4,629.0 343.5,625.7 347.8,623.2 352.7,621.3 357.5,620.3 359.7,614.9 359.8,608.9 357.8,605.1 356.2,600.3 353.5,596.1 351.2,592.3 351.9,586.8 354.4,583.5 357.1,586.3 361.0,588.9 364.2,592.9 367.9,595.9 371.1,597.3 374.3,595.0 376.6,589.4 379.0,586.0 381.5,582.0 383.4,577.5 385.5,573.4 388.3,570.1 387.1,565.5 388.2,561.9 391.1,560.4 395.0,558.9 399.3,557.5 403.8,555.7 408.1,553.9 411.9,551.8 415.7,550.7 418.4,545.9 419.9,541.1 421.6,536.8 422.3,531.8 423.9,528.3"/>
<polyline points="304.4,520.0 303.9,523.0 304.4,526.5 303.4,530.2 303.0,534.2 303.3,538.4 302.6,542.8 301.8,547.2 301.8,551.7 301.6,556.1 301.7,560.2 301.6,564.5 301.0,568.8 300.6,573.3 300.5,577.8 300.1,582.3 300.1,586.8 299.2,591.1 299.0,595.4 299.3,599.5 299.2,603.3 299.1,608.7 299.6,613.8 299.5,618.5 300.7,622.9 301.3,627.1 301.3,631.2 303.7,635.8 305.1,640.0 307.4,644.9 308.0,649.0 309.4,653.2 310.3,657.8 312.1,662.3 312.8,667.1 314.2,671.5 315.6,675.5 317.5,680.2 319.9,684.6 323.0,688.2 325.0,691.8 326.7,695.0"/>
<polyline points="304.4,547.8 308.7,546.9 313.9,545.7 319.3,544.7 324.0,544.8 326.5,548.1 327.3,552.4 329.5,556.1 333.7,557.8 338.3,559.6 343.3,561.6 347.2,563.2 351.5,565.0 355.8,566.9 359.7,568.4 363.0,570.5 365.4,566.8 365.1,561.7 364.6,557.5 363.1,552.9 360.1,547.7 357.5,544.8 355.4,541.0 352.7,537.3 349.8,533.6 347.4,529.5 344.4,526.3 342.9,522.5 340.6,520.0"/>
<polyline points="326.7,533.9 330.6,532.4 335.0,531.3 339.0,533.6 343.2,536.8 345.2,540.5 346.7,545.1 348.2,549.6 348.9,553.3"/>
<polyline points="351.7,570.0 352.0,573.7 350.8,578.1 350.7,582.8 351.8,586.5 355.9,588.6 360.8,590.6 365.3,592.5 369.9,596.9 373.9,600.6"/>
<polyline points="371.1,690.8 377.0,692.1 373.7,697.5 370.1,696.3 371.1,690.8"/>
<polyline points="379.4,693.6 383.7,694.3 388.0,695.1 382.2,698.1 379.4,693.6"/>
<polyline points="559.7,222.7 558.8,226.2 558.9,230.4 558.4,234.9 558.0,239.4 558.1,243.6 557.8,247.3 561.3,249.9 565.1,251.3 568.8,253.4 572.8,254.7 576.8,256.0 581.1,256.6 586.2,256.2 591.4,255.3 596.3,253.3 599.6,250.7 602.6,247.5 605.8,244.4 608.6,241.1 609.5,236.5 611.2,231.7 611.2,226.9 611.5,222.8 608.4,219.5 603.5,218.4 599.4,217.1 595.3,218.0 590.3,220.0 586.6,219.5 582.4,220.3 577.9,219.3 573.5,219.2 569.3,219.3 565.8,219.8 559.7,222.7"/>
<polyline points="565.8,225.8 565.5,229.5 564.4,234.0 563.9,238.9 563.4,243.5 562.7,247.2"/>
<polyline points="593.3,195.3 594.6,199.2 595.9,204.1 597.3,209.2 599.1,213.8 603.2,217.6 608.1,220.0 611.6,222.7"/>
<polyline points="626.9,219.7 626.7,216.1 627.0,211.8 627.2,207.1 626.9,202.5 626.5,198.4 625.1,193.6 623.7,189.3 620.7,186.1 617.3,185.9 613.4,186.7 609.2,187.8 604.8,188.8 600.6,189.9 596.7,191.3 593.2,191.9 587.7,192.9 584.1,192.2"/>
<polyline points="581.1,256.3 580.0,260.3 577.9,265.4 575.0,268.5 570.9,271.5 566.6,274.4 563.0,277.9 559.6,280.7 556.5,285.8 553.7,290.0 548.9,292.4 544.8,296.4 542.4,299.5 539.7,302.8 537.6,306.9 535.7,311.5 533.8,314.9 532.7,318.9 531.2,323.0 530.0,327.3 528.6,331.4 527.3,335.2 526.2,338.8 524.2,344.0 522.0,348.0 520.0,351.0"/>
<polyline points="581.1,262.4 585.5,263.9 590.2,265.5 591.4,269.2 590.7,273.5 590.5,277.9 587.4,280.6 583.3,282.6 579.2,285.1 575.0,286.9 570.2,287.9 565.3,289.0 560.5,289.3 556.6,289.9"/>
<polyline points="590.2,259.4 593.6,258.0 598.0,257.1 602.7,255.9 607.2,254.0 611.6,253.2 617.2,251.6 622.6,251.0 626.9,250.2"/>
<polyline points="538.3,296.0 542.0,296.3 546.6,295.8 551.5,295.9 556.0,296.0 560.0,295.8 558.7,299.6 559.5,305.3 562.6,307.2 565.0,310.5 568.7,312.9 572.3,315.7 575.5,319.4 579.5,322.1 583.1,325.3 587.1,327.5 590.0,330.6 593.5,332.3 598.7,335.0 603.2,336.9 607.5,337.5 611.6,338.9 615.7,337.4 619.8,335.8 623.8,334.3 626.9,332.7"/>
<polyline points="568.9,314.4 569.0,317.7 568.7,321.7 569.2,326.0 569.1,330.8 569.7,335.6 569.5,340.5 569.5,345.2 570.2,349.7 569.2,353.6 569.0,357.2 565.4,358.9 561.3,360.2 556.8,360.7 552.3,361.5 548.0,360.9 544.6,359.9 542.9,356.4 541.3,352.0 539.5,347.2 539.2,342.4 538.3,338.8"/>
<polyline points="593.3,332.7 594.2,335.8 594.3,339.7 594.6,344.0 596.0,348.4 595.8,353.1 596.8,357.7 598.0,361.9 598.9,365.9 599.4,369.3 602.9,373.3 607.2,374.7 611.6,375.0 615.3,373.8 619.5,372.2 623.8,371.1 626.9,369.3"/>
<polyline points="520.0,369.3 523.2,369.8 526.8,371.2 530.9,372.0 535.1,373.6 539.8,374.3 544.5,375.0 548.2,376.3 552.4,376.4 556.6,377.1 561.0,377.6 565.3,378.2 569.7,377.5 573.8,378.1 577.6,378.1 581.1,378.5 586.7,376.1 590.5,372.5 593.3,369.3"/>
<polyline points="520.0,366.7 522.2,369.1 524.1,372.4 525.7,376.4 528.3,380.0 531.0,383.4 533.4,386.6 536.8,389.3 539.7,392.6 543.5,394.8 546.5,397.7 549.9,400.1 553.7,403.3 556.7,407.3 560.0,410.6 563.2,413.8 567.0,412.8 570.7,411.0 574.7,409.4 579.0,407.9 583.3,406.6 587.6,406.0 592.1,405.0 596.8,404.2 601.3,403.2 605.9,403.5 610.0,403.2 615.0,404.9 619.1,408.0 622.8,411.4 626.9,412.9 633.6,416.4 634.8,420.9 636.9,426.6 637.9,430.6 638.7,435.1 640.1,439.8 641.0,444.7 642.2,449.2 642.9,453.5 645.2,458.3 648.4,461.7 649.9,466.7 650.4,470.7 651.1,475.0 651.9,479.4 652.6,484.0 653.0,488.7 653.5,493.3 652.9,497.6 651.3,501.8 650.1,506.2 648.8,510.5 648.0,514.9 647.5,519.3 646.4,523.3 647.0,527.5 648.1,531.3 649.1,535.2 650.7,538.8 651.8,542.7 653.4,546.6 655.5,550.2 657.1,554.1 659.1,557.9 660.5,562.1 663.1,565.6 665.1,569.4 666.9,573.2 668.3,577.9 669.5,582.8 670.9,587.6 672.1,592.2 672.1,596.6 673.3,600.0"/>
<polyline points="636.7,413.3 638.9,411.1 641.7,408.4 644.9,405.6 647.9,402.2 650.9,399.0 653.8,395.9 656.5,393.2 658.9,388.9 661.2,385.0 662.5,380.8 663.8,376.7 662.0,372.3 660.7,367.5 658.3,363.4 656.7,360.0"/>
<polyline points="636.7,426.7 640.1,426.0 644.4,425.8 649.0,426.0 653.2,426.6 656.8,426.6 657.4,430.3 657.9,434.6 657.0,439.2 657.1,443.6 653.1,447.0 648.6,450.0 646.9,453.3 649.8,454.6 654.1,455.8 658.8,457.4 663.2,458.7 666.7,460.0"/>
<polyline points="650.0,466.7 653.3,467.5 657.4,467.7 661.8,468.6 666.5,469.2 671.1,470.5 675.6,471.7 679.8,472.4 683.5,473.1 686.6,477.1 688.0,481.2 689.9,486.7 691.1,490.2 691.1,494.4 692.0,498.7 693.4,503.2 694.4,507.7 694.9,512.2 694.6,516.4 693.9,520.1 693.2,523.2 690.0,523.7 686.3,525.0 682.0,525.1 677.4,524.7 672.6,524.7 667.7,524.7 662.9,524.1 658.2,524.1 653.8,524.1 650.0,523.5 646.7,523.3"/>
<polyline points="693.3,493.3 696.7,492.9 700.8,493.7 705.3,493.4 709.7,493.6 713.4,493.4 717.2,489.8 720.0,486.7"/>
<polyline points="686.7,530.0 686.3,533.3 686.2,537.4 684.5,541.8 684.2,546.6 683.0,551.4 683.5,556.2 682.6,560.4 682.6,564.0 683.4,566.5 685.7,565.4 688.7,563.9 692.1,561.6 696.2,559.5 699.6,556.0 703.8,553.7 707.2,550.6 710.5,548.4 713.3,546.8 717.7,549.3 720.0,553.3"/>
<polyline points="573.3,373.3 573.8,376.7 574.7,380.8 575.9,385.2 576.4,390.1 577.9,394.7 578.3,399.3 579.0,403.4 580.0,406.7"/>
<polyline points="593.3,380.0 594.9,383.4 597.7,387.2 599.7,391.8 602.1,396.3 604.9,400.1 606.7,403.3"/>
<polyline points="540.0,390.0 543.3,389.1 547.5,388.5 552.1,388.0 556.3,386.5 560.2,386.2 563.1,389.4 565.2,393.1 566.4,396.6 565.0,400.3 561.8,403.5 560.0,406.7"/>
<polyline points="610.0,360.0 612.8,362.1 615.5,365.4 619.4,368.0 623.1,370.7 626.8,372.9 630.9,372.9 635.7,372.9 640.6,372.2 645.3,371.0 649.8,371.0 653.3,370.0"/>
<polyline points="660.0,390.0 663.6,390.3 667.9,390.7 672.6,391.3 677.4,392.6 682.2,393.3 686.7,393.0 691.1,392.9 695.5,393.8 699.7,393.1 703.5,393.9 706.7,393.3"/>
<polyline points="666.7,413.3 670.0,413.5 674.2,414.1 678.7,414.0 683.0,414.4 686.6,413.3 688.4,409.8 690.5,405.8 690.9,400.9 692.6,396.8 693.3,393.3"/>
<polyline points="586.2,146.2 591.6,148.4 594.8,153.8 593.9,160.0 598.4,165.3 601.8,168.4 603.7,172.5 605.1,180.0 602.3,183.4 597.7,184.0 592.5,184.9 587.1,186.1 582.3,186.4 584.8,182.3 589.9,180.0 587.2,173.9 583.4,167.6 582.8,160.0 585.1,155.0 585.3,150.3 586.2,146.2"/>
<polyline points="562.5,167.5 566.9,165.1 571.2,162.2 577.5,162.6 580.4,170.0 578.2,173.7 576.0,177.2 572.0,180.0 567.5,181.0 562.8,178.5 561.7,173.2 562.5,167.5"/>
<polyline points="581.2,195.0 587.5,193.6 592.5,197.5 594.6,205.1 595.5,209.2 594.9,213.8 595.0,217.5"/>
<polyline points="592.5,190.0 597.0,188.7 602.5,186.7 607.5,185.1 611.7,182.9 614.8,179.7 620.2,177.1 624.9,173.6 632.5,171.2"/>
<polyline points="622.5,130.0 622.4,134.6 622.7,140.2 624.0,144.8 629.9,149.1 634.2,148.0 638.4,145.5 642.2,143.3 645.1,140.5 648.0,137.6 647.5,130.0"/>
<polyline points="640.0,151.2 639.1,155.5 637.1,160.1 639.8,163.2 642.4,166.5 647.7,166.7 652.5,167.5"/>
<polyline points="635.0,152.5 632.9,160.0 633.7,165.2 635.3,170.3 627.5,172.5"/>
<polyline points="625.0,192.5 630.2,192.4 627.1,200.1 631.9,200.6 637.5,200.7 642.6,200.5 649.8,197.0 657.5,195.0"/>
<polyline points="625.0,205.0 629.5,204.7 635.0,205.2 640.0,205.2 647.5,207.5"/>
<polyline points="647.5,130.0 647.5,134.0 646.4,138.7 646.5,143.7 647.6,147.9 649.5,152.2 651.4,156.6 652.0,161.4 654.2,166.0 655.2,171.2 657.3,175.8 657.5,180.0 653.3,183.3 648.8,185.0 651.8,188.7 655.0,192.5"/>
<polyline points="766.0,276.2 768.7,278.1 772.5,279.6 775.9,282.4 779.9,284.3 783.7,285.9 787.9,288.0 792.2,290.0 796.1,292.0 799.6,292.4 802.1,284.7 808.3,286.7 810.6,289.6 813.3,293.1 816.2,296.1 819.8,298.9 823.6,301.0 827.5,300.4 831.9,299.7 836.0,300.0 839.9,303.5 843.5,307.6 848.5,308.9 853.6,309.5 857.5,310.3 862.3,310.2 866.2,310.0 870.8,310.1 875.6,310.2 879.9,310.5 883.5,310.0"/>
<polyline points="788.5,260.0 789.4,267.7 793.9,271.3 798.6,274.9 800.9,280.2 802.2,285.0"/>
<polyline points="811.0,306.2 816.0,308.7 821.1,310.6 826.0,311.2"/>
<polyline points="812.2,303.8 817.8,302.4 823.5,301.2"/>
<polyline points="833.5,306.2 836.1,307.4 838.7,311.2 841.0,315.0"/>
<polyline points="852.2,260.0 852.9,264.5 852.4,270.0 854.0,274.9 855.3,279.1 856.8,282.6 858.8,289.9 860.9,293.4 864.0,296.8 866.3,300.1 862.6,305.1 863.5,310.0"/>
<polyline points="858.5,290.0 861.9,289.2 866.2,289.6 870.8,289.1 875.1,288.7 878.1,287.3 879.9,280.1 883.5,280.0"/></g>
<rect x="71" y="126" width="555" height="541" fill="#e2ecf7" fill-opacity="0.66"/>
<!-- chart -->
<g stroke="#c8d1d6" stroke-width="1">
<line x1="120" x2="576" y1="307.5" y2="307.5"/>
<line x1="120" x2="576" y1="344.5" y2="344.5"/>
<line x1="120" x2="576" y1="381.5" y2="381.5"/>
<line x1="120" x2="576" y1="419.5" y2="419.5"/>
<line x1="120" x2="576" y1="456.5" y2="456.5"/>
<line x1="120" x2="576" y1="493.5" y2="493.5"/>
<line x1="120" x2="576" y1="531" y2="531"/>
</g>
<rect x="178" y="443" width="112" height="88" fill="#35a1a2"/>
<rect x="406" y="336" width="113" height="195" fill="#0781b3"/>
<rect x="105.5" y="292.5" width="485" height="276" fill="none" stroke="#0d0d0d" stroke-width="1.1"/>
<!-- right panel -->
<rect x="885.5" y="125.5" width="379" height="550.5" rx="30" ry="30" fill="#deecf5" stroke="url(#pb)" stroke-width="2"/>
<!-- CAGR -->
<circle cx="800" cy="392" r="105" fill="url(#cr)"/>
<circle cx="810" cy="397.5" r="84.5" fill="#1b3e4f" stroke="#ffffff" stroke-width="4"/>
<!-- logo -->
<g id="logo">
<circle cx="1057" cy="49.2" r="13.3" fill="none" stroke="#4b6377" stroke-width="3.8"/>
<path d="M1044.5,53 L1041.6,63.6 L1050.5,59.5 Z" fill="#4b6377"/>
<rect x="1048.5" y="48.7" width="4.5" height="10.8" fill="#1fb5cf"/>
<rect x="1055" y="44.3" width="4.2" height="16" fill="#1fb5cf"/>
<rect x="1061.7" y="38.5" width="3.6" height="24" fill="#4b6377"/>
</g>
<g fill="none" stroke="#ffffff" stroke-width="1.9" stroke-linecap="round">
<circle cx="830.3" cy="411.8" r="3.5"/>
<circle cx="843.3" cy="424.6" r="3.7"/>
<path d="M845.6,405.2 L827.6,430.2"/>
<path d="M830.3,408.3 Q838,405.6 845.6,405.2"/>
</g>
<text x="65.99" y="64.00" font-size="43" font-weight="normal" font-style="italic" fill="#404040" textLength="115.94" lengthAdjust="spacingAndGlyphs" stroke="#404040" stroke-width="2.0" stroke-linejoin="round">Smart</text>
<text x="196.87" y="64.00" font-size="43" font-weight="normal" font-style="italic" fill="#404040" textLength="211.30" lengthAdjust="spacingAndGlyphs" stroke="#404040" stroke-width="2.0" stroke-linejoin="round">Backpack</text>
<text x="421.39" y="64.00" font-size="43" font-weight="normal" font-style="italic" fill="#404040" textLength="146.33" lengthAdjust="spacingAndGlyphs" stroke="#404040" stroke-width="2.0" stroke-linejoin="round">Market</text>
<text x="580.98" y="64.00" font-size="43" font-weight="normal" font-style="italic" fill="#404040" textLength="93.62" lengthAdjust="spacingAndGlyphs" stroke="#404040" stroke-width="2.0" stroke-linejoin="round">2024</text>
<text x="686.63" y="64.00" font-size="43" font-weight="normal" font-style="italic" fill="#404040" textLength="38.35" lengthAdjust="spacingAndGlyphs" stroke="#404040" stroke-width="2.0" stroke-linejoin="round">to</text>
<text x="739.96" y="64.00" font-size="43" font-weight="normal" font-style="italic" fill="#404040" textLength="91.96" lengthAdjust="spacingAndGlyphs" stroke="#404040" stroke-width="2.0" stroke-linejoin="round">2032</text>
<text x="194.60" y="178.70" font-size="18.5" font-weight="normal" font-style="normal" fill="#333333" textLength="309.70" lengthAdjust="spacingAndGlyphs">Global Market Size,  2024 and 2032</text>
<text x="289.00" y="208.00" font-size="18" font-weight="bold" font-style="normal" fill="#111111" textLength="119.39" lengthAdjust="spacingAndGlyphs">(USD Billion)</text>
<text x="221.59" y="433.00" font-size="20" font-weight="normal" font-style="normal" fill="#1f1f1f" textLength="25.22" lengthAdjust="spacingAndGlyphs">1.3</text>
<text x="443.00" y="325.80" font-size="20" font-weight="normal" font-style="normal" fill="#1f1f1f" textLength="37.62" lengthAdjust="spacingAndGlyphs">3.52</text>
<text x="216.40" y="558.00" font-size="17" font-weight="normal" font-style="normal" fill="#3a464d" textLength="35.63" lengthAdjust="spacingAndGlyphs">2024</text>
<text x="445.60" y="558.00" font-size="17" font-weight="normal" font-style="normal" fill="#3a464d" textLength="35.32" lengthAdjust="spacingAndGlyphs">2032</text>
<text x="761.63" y="390.00" font-size="33" font-weight="bold" font-style="normal" fill="#ffffff" textLength="94.00" lengthAdjust="spacingAndGlyphs">CAGR</text>
<text x="772.39" y="429.00" font-size="25" font-weight="normal" font-style="normal" fill="#ffffff" textLength="44.33" lengthAdjust="spacingAndGlyphs">13.3</text>
<text x="1077.60" y="50.50" font-size="19.5" font-weight="normal" font-style="normal" fill="#3ab4d2" textLength="83.23" lengthAdjust="spacingAndGlyphs">Credence</text>
<text x="1167.04" y="50.50" font-size="19.5" font-weight="normal" font-style="normal" fill="#626e77" textLength="80.27" lengthAdjust="spacingAndGlyphs">Research</text>
<text x="1077.60" y="61.30" font-size="6.5" font-weight="bold" font-style="normal" fill="#5f6a72" textLength="167.95" lengthAdjust="spacing">Actionable Insights Delivered</text>
<text x="980.74" y="195.00" font-size="19" font-weight="normal" font-style="normal" fill="#262626" textLength="157.79" lengthAdjust="spacingAndGlyphs">Market Segments</text>
<text x="981.29" y="217.50" font-size="18.5" font-weight="bold" font-style="normal" fill="#111111" textLength="132.01" lengthAdjust="spacingAndGlyphs">Based on Type</text>
<text x="999.15" y="239.00" font-size="19" font-weight="normal" font-style="normal" fill="#262626" textLength="165.28" lengthAdjust="spacingAndGlyphs">Laptop backpack</text>
<text x="1000.30" y="261.70" font-size="19" font-weight="normal" font-style="normal" fill="#262626" textLength="151.85" lengthAdjust="spacingAndGlyphs">Travel backpack</text>
<text x="1000.30" y="284.60" font-size="19" font-weight="normal" font-style="normal" fill="#262626" textLength="161.84" lengthAdjust="spacingAndGlyphs">Casual backpack</text>
<text x="1000.30" y="306.50" font-size="19" font-weight="normal" font-style="normal" fill="#262626" textLength="59.82" lengthAdjust="spacingAndGlyphs">Others</text>
<text x="981.28" y="329.80" font-size="18.5" font-weight="bold" font-style="normal" fill="#111111" textLength="193.99" lengthAdjust="spacingAndGlyphs">Based on Technology</text>
<text x="999.27" y="351.70" font-size="19" font-weight="normal" font-style="normal" fill="#262626" textLength="120.92" lengthAdjust="spacingAndGlyphs">USB charging</text>
<text x="1000.30" y="373.50" font-size="19" font-weight="normal" font-style="normal" fill="#262626" textLength="131.30" lengthAdjust="spacingAndGlyphs">Solar-powered</text>
<text x="1000.30" y="396.50" font-size="19" font-weight="normal" font-style="normal" fill="#262626" textLength="63.46" lengthAdjust="spacingAndGlyphs">Sensors</text>
<text x="1000.30" y="418.30" font-size="19" font-weight="normal" font-style="normal" fill="#262626" textLength="59.82" lengthAdjust="spacingAndGlyphs">Others</text>
<text x="981.25" y="441.25" font-size="18.5" font-weight="bold" font-style="normal" fill="#111111" textLength="239.06" lengthAdjust="spacingAndGlyphs">Based on Capacity Range</text>
<text x="1000.30" y="463.70" font-size="19" font-weight="normal" font-style="normal" fill="#262626" textLength="99.17" lengthAdjust="spacingAndGlyphs">30–40 Liters</text>
<text x="999.31" y="486.00" font-size="19" font-weight="normal" font-style="normal" fill="#262626" textLength="128.99" lengthAdjust="spacingAndGlyphs">Below 30 Liters</text>
<text x="1000.30" y="509.00" font-size="19" font-weight="normal" font-style="normal" fill="#262626" textLength="134.21" lengthAdjust="spacingAndGlyphs">Above 40 Liters</text>
<text x="981.27" y="531.00" font-size="18.5" font-weight="bold" font-style="normal" fill="#111111" textLength="212.03" lengthAdjust="spacingAndGlyphs">Based on Material Type</text>
<text x="999.30" y="554.00" font-size="19" font-weight="normal" font-style="normal" fill="#262626" textLength="79.53" lengthAdjust="spacingAndGlyphs">Polyester</text>
<text x="999.23" y="575.90" font-size="19" font-weight="normal" font-style="normal" fill="#262626" textLength="51.87" lengthAdjust="spacingAndGlyphs">Nylon</text>
<text x="999.22" y="598.00" font-size="19" font-weight="normal" font-style="normal" fill="#262626" textLength="69.75" lengthAdjust="spacingAndGlyphs">Leather</text>
<text x="1000.30" y="620.70" font-size="19" font-weight="normal" font-style="normal" fill="#262626" textLength="59.42" lengthAdjust="spacingAndGlyphs">Others</text>
<circle cx="984.3" cy="233.20" r="2.6" fill="#1d1d1d"/>
<circle cx="984.3" cy="255.90" r="2.6" fill="#1d1d1d"/>
<circle cx="984.3" cy="278.80" r="2.6" fill="#1d1d1d"/>
<circle cx="984.3" cy="300.70" r="2.6" fill="#1d1d1d"/>
<circle cx="984.3" cy="345.90" r="2.6" fill="#1d1d1d"/>
<circle cx="984.3" cy="367.70" r="2.6" fill="#1d1d1d"/>
<circle cx="984.3" cy="390.70" r="2.6" fill="#1d1d1d"/>
<circle cx="984.3" cy="412.50" r="2.6" fill="#1d1d1d"/>
<circle cx="984.3" cy="457.90" r="2.6" fill="#1d1d1d"/>
<circle cx="984.3" cy="480.20" r="2.6" fill="#1d1d1d"/>
<circle cx="984.3" cy="503.20" r="2.6" fill="#1d1d1d"/>
<circle cx="984.3" cy="548.20" r="2.6" fill="#1d1d1d"/>
<circle cx="984.3" cy="570.10" r="2.6" fill="#1d1d1d"/>
<circle cx="984.3" cy="592.20" r="2.6" fill="#1d1d1d"/>
<circle cx="984.3" cy="614.90" r="2.6" fill="#1d1d1d"/>
</svg>
</body>
</html>
